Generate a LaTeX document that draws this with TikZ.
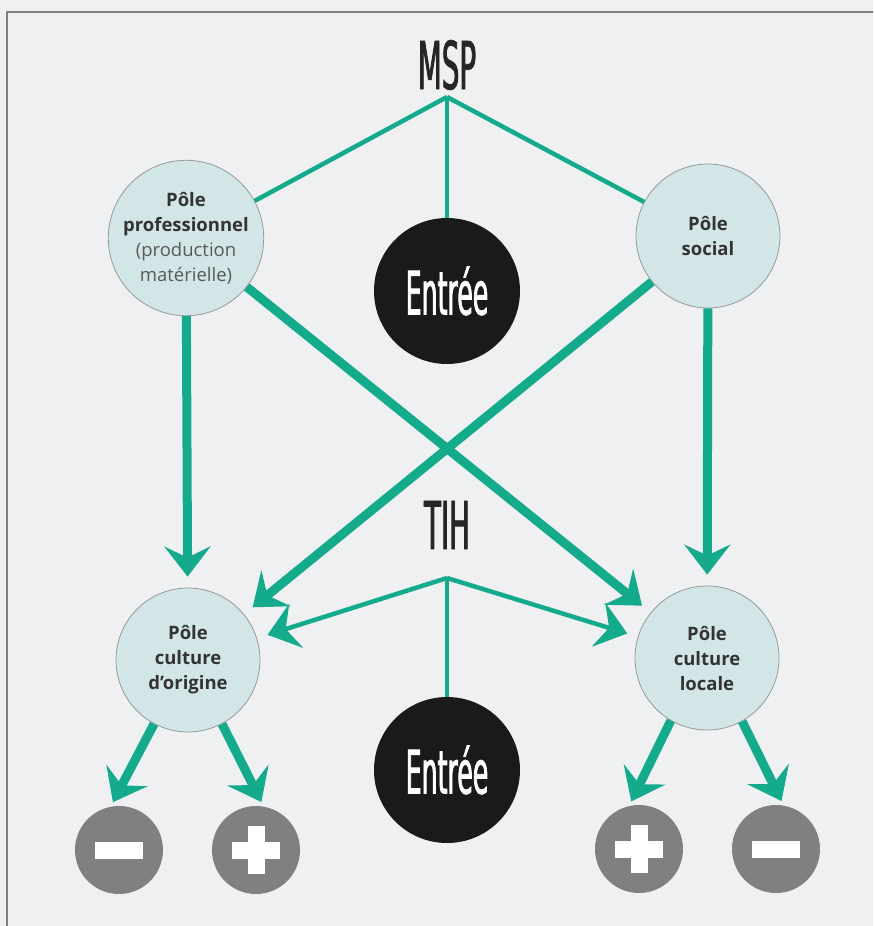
\documentclass[tikz,border=0pt]{standalone}
\usepackage{fontspec}
\usetikzlibrary{arrows.meta}
\newfontfamily\polefont{Open Sans}
\newfontfamily\titrefont[FakeStretch=0.42,FakeBold=1.2]{DejaVu Sans}
\definecolor{fond}{HTML}{EEF0F2}
\definecolor{vert}{HTML}{14AA8C}
\definecolor{bleupale}{HTML}{D3E6E7}
\definecolor{gris}{HTML}{808080}
\definecolor{noir}{HTML}{1A1A1A}
\tikzset{
  pole/.style={circle, minimum size=144pt, inner sep=0pt, fill=bleupale, draw=gray!80, line width=0.8pt,
    align=center, text=black!80, font=\polefont\bfseries\fontsize{18.5}{25}\selectfont},
  entree/.style={circle, minimum size=146pt, inner sep=0pt, fill=noir, text=white,
    font=\titrefont\fontsize{60}{60}\selectfont},
  titre/.style={text=black!85, font=\titrefont\fontsize{66}{66}\selectfont, inner sep=0pt},
  signe/.style={circle, minimum size=88pt, inner sep=0pt, fill=gris},
  signmoins/.style={signe, path picture={\fill[white] (-24pt,-8.5pt) rectangle (24pt,8.5pt);}},
  signplus/.style={signe, path picture={\fill[white] (-24pt,-8.5pt) rectangle (24pt,8.5pt);
    \fill[white] (-8.5pt,-24pt) rectangle (8.5pt,24pt);}},
  fin/.style={vert, line width=4.5pt},
  gros/.style={vert, line width=9pt},
  fleche/.style={-{Stealth[length=30pt,width=46pt,inset=11pt]}, shorten >=11pt},
}
\begin{document}
\begin{tikzpicture}[x=1pt,y=-1pt]
    % background
    \useasboundingbox (0,0) rectangle (873,926);
    \fill[fond] (0,0) rectangle (873,926);
    \draw[gris, line width=2pt] (7,926) -- (7,12) -- (873,12);
    % titles
    \node[titre] (msp) at (447,65) {MSP};
    \node[titre] (tih) at (447,525) {TIH};
    \coordinate (mspsommet) at (447,97);
    \coordinate (tihsommet) at (447,578);
    % poles
    \node[pole] (prof) at (186,238) {Pôle\\professionnel\\{\mdseries\color{black!65}(production}\\{\mdseries\color{black!65}matérielle)}};
    \node[pole] (social) at (708,236) {Pôle\\social};
    \node[pole] (origine) at (188,660) {Pôle\\culture\\d’origine};
    \node[pole] (locale) at (707,658) {Pôle\\culture\\locale};
    % entries
    \node[entree] (entreeA) at (447,291) {Entrée};
    \node[entree] (entreeB) at (447,770) {Entrée};
    % signs
    \node[signmoins] (moinsA) at (119,850) {};
    \node[signplus] (plusA) at (256,850) {};
    \node[signplus] (plusB) at (639,849) {};
    \node[signmoins] (moinsB) at (776,849) {};
    % upper lines
    \draw[fin] (mspsommet) -- (prof);
    \draw[fin] (mspsommet) -- (social);
    \draw[fin] (mspsommet) -- (entreeA.north);
    % thick arrows
    \draw[gros, fleche] (prof) -- (origine);
    \draw[gros, fleche] (social) -- (locale);
    \draw[gros, fleche] (prof) -- (locale);
    \draw[gros, fleche] (social) -- (origine);
    % lower lines
    \draw[fin, fleche] (tihsommet) -- (origine);
    \draw[fin, fleche] (tihsommet) -- (locale);
    \draw[fin] (tihsommet) -- (entreeB.north);
    % signs arrows
    \draw[gros, fleche, shorten >=5pt] (origine.-118) -- (moinsA.101);
    \draw[gros, fleche, shorten >=5pt] (origine.-62) -- (plusA.80);
    \draw[gros, fleche, shorten >=5pt] (locale.-120) -- (plusB.103);
    \draw[gros, fleche, shorten >=5pt] (locale.-61) -- (moinsB.80);
\end{tikzpicture}
\end{document}
